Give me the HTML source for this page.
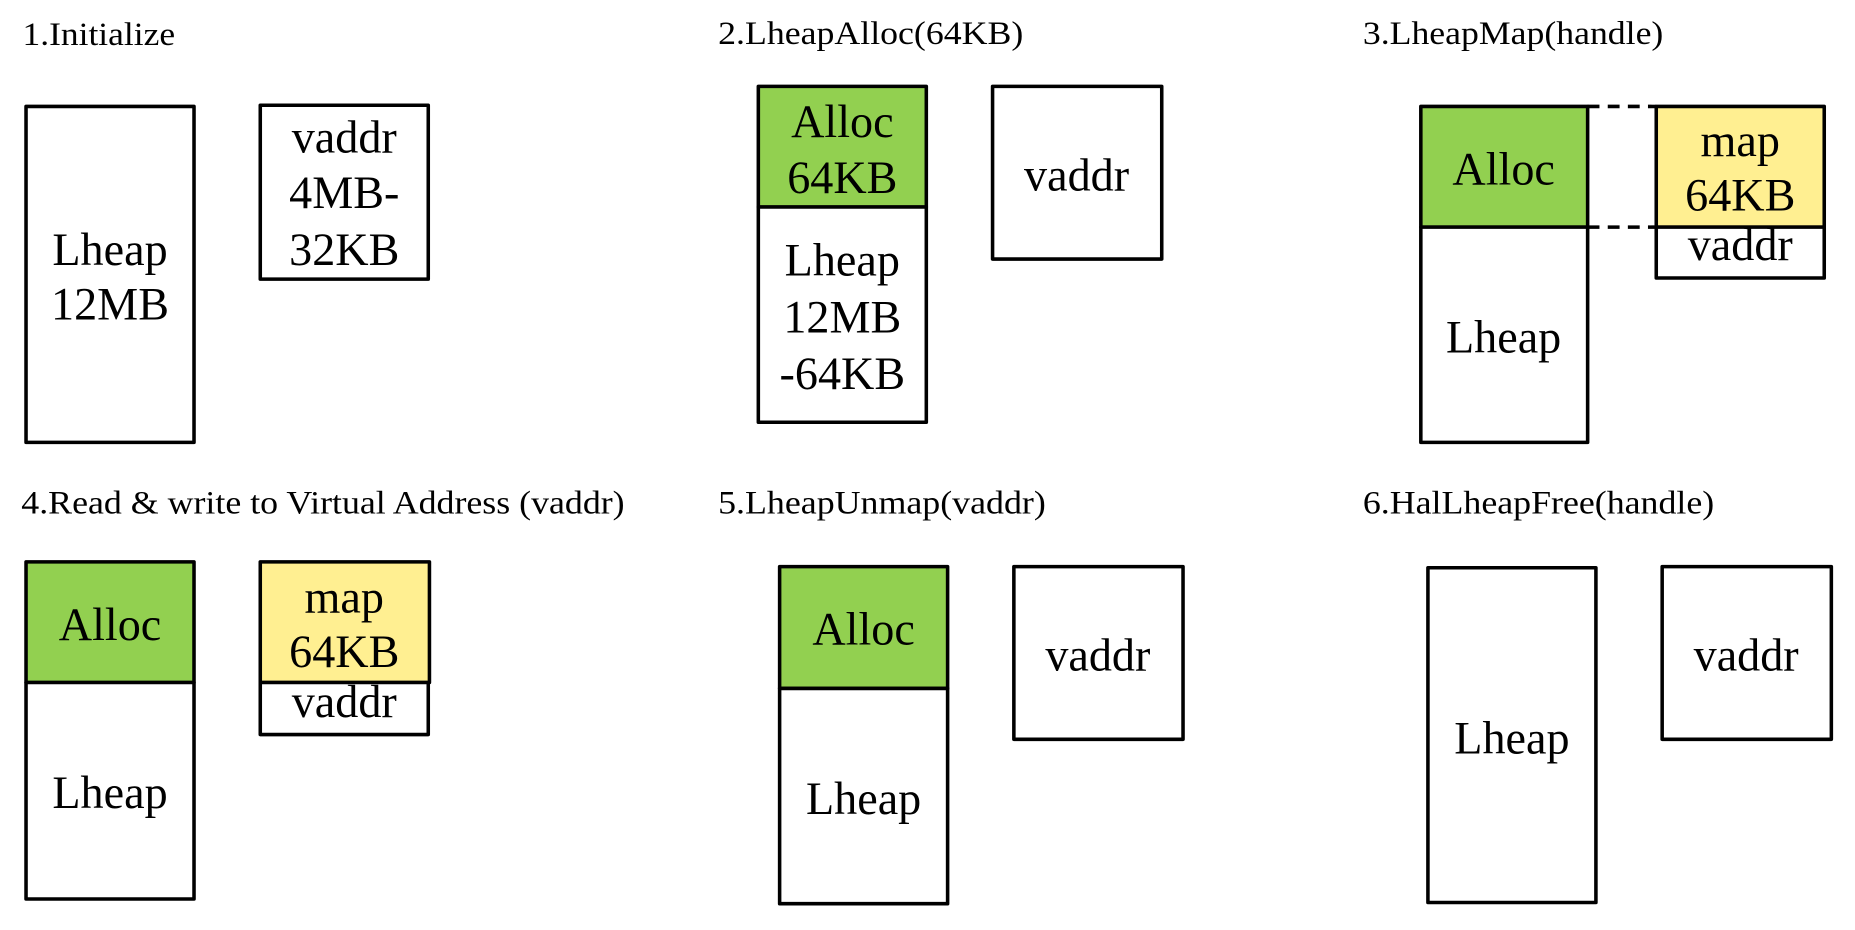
<!DOCTYPE html>
<html><head><style>html,body{margin:0;padding:0;background:#fff;overflow:hidden}</style></head>
<body>
<svg width="1855" height="925" viewBox="0 0 1568 782" preserveAspectRatio="none" xmlns="http://www.w3.org/2000/svg" font-family="Liberation Serif, serif">
<g fill="#000" font-size="28">
<text x="19" y="38" textLength="129" lengthAdjust="spacingAndGlyphs">1.Initialize</text>
<text x="607" y="37" textLength="258" lengthAdjust="spacingAndGlyphs">2.LheapAlloc(64KB)</text>
<text x="1152" y="37" textLength="254" lengthAdjust="spacingAndGlyphs">3.LheapMap(handle)</text>
<text x="18" y="434" textLength="510" lengthAdjust="spacingAndGlyphs">4.Read &amp; write to Virtual Address (vaddr)</text>
<text x="607" y="434" textLength="277" lengthAdjust="spacingAndGlyphs">5.LheapUnmap(vaddr)</text>
<text x="1152" y="434" textLength="297" lengthAdjust="spacingAndGlyphs">6.HalLheapFree(handle)</text>
</g>
<g stroke="#000" stroke-width="3" stroke-linejoin="round">
<rect x="22" y="90" width="142" height="284" fill="#fff"/>
<rect x="220" y="89" width="142" height="147" fill="#fff"/>
<rect x="641" y="73" width="142" height="102" fill="#92d050"/>
<rect x="641" y="175" width="142" height="182" fill="#fff"/>
<rect x="839" y="73" width="143" height="146" fill="#fff"/>
<rect x="1201" y="90" width="141" height="102" fill="#92d050"/>
<rect x="1201" y="192" width="141" height="182" fill="#fff"/>
<rect x="1400" y="90" width="142" height="102" fill="#ffef91"/>
<rect x="1400" y="192" width="142" height="43" fill="#fff"/>
<rect x="22" y="475" width="142" height="102" fill="#92d050"/>
<rect x="22" y="577" width="142" height="183" fill="#fff"/>
<rect x="220" y="475" width="143" height="102" fill="#ffef91"/>
<rect x="220" y="577" width="142" height="44" fill="#fff"/>
<rect x="659" y="479" width="142" height="103" fill="#92d050"/>
<rect x="659" y="582" width="142" height="182" fill="#fff"/>
<rect x="857" y="479" width="143" height="146" fill="#fff"/>
<rect x="1207" y="480" width="142" height="283" fill="#fff"/>
<rect x="1405" y="479" width="143" height="146" fill="#fff"/>
<line x1="1342" y1="90" x2="1400" y2="90" stroke-dasharray="10,7"/>
<line x1="1342" y1="192" x2="1400" y2="192" stroke-dasharray="10,7"/>
</g>
<g fill="#000" font-size="39" text-anchor="middle">
<text x="93" y="224">Lheap</text><text x="93" y="270">12MB</text>
<text x="291" y="129">vaddr</text><text x="291" y="176">4MB-</text><text x="291" y="224">32KB</text>
<text x="712" y="116">Alloc</text><text x="712" y="163">64KB</text>
<text x="712" y="233">Lheap</text><text x="712" y="281">12MB</text><text x="712" y="329">-64KB</text>
<text x="910" y="161">vaddr</text>
<text x="1271" y="156">Alloc</text>
<text x="1271" y="298">Lheap</text>
<text x="1471" y="132">map</text><text x="1471" y="178">64KB</text>
<text x="1471" y="220">vaddr</text>
<text x="93" y="541">Alloc</text>
<text x="93" y="683">Lheap</text>
<text x="291" y="518">map</text><text x="291" y="564">64KB</text>
<text x="291" y="606">vaddr</text>
<text x="730" y="545">Alloc</text>
<text x="730" y="688">Lheap</text>
<text x="928" y="567">vaddr</text>
<text x="1278" y="637">Lheap</text>
<text x="1476" y="567">vaddr</text>
</g>
</svg>
</body></html>
